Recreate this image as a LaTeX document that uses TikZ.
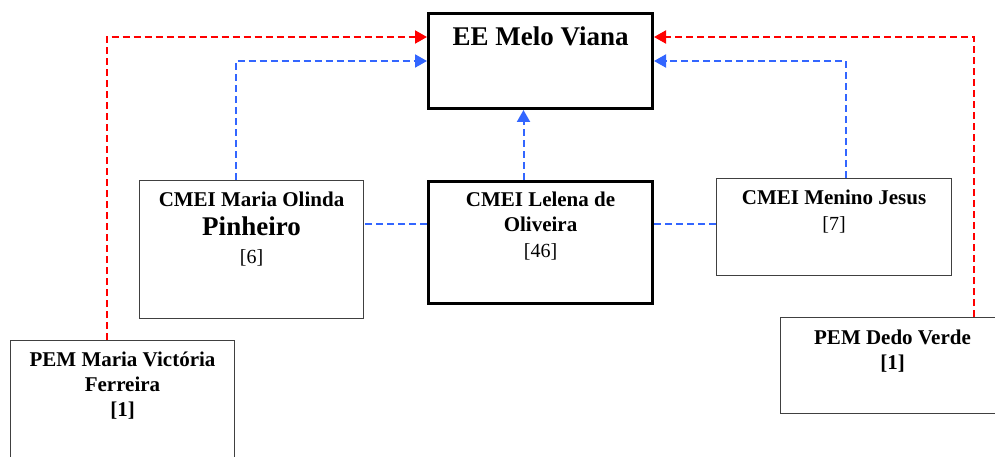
\documentclass[tikz,border=0pt]{standalone}
\usepackage{fontspec}
\setmainfont{Liberation Serif}
\usetikzlibrary{positioning,arrows.meta}

\definecolor{linkred}{RGB}{255,0,0}
\definecolor{linkblue}{RGB}{51,102,255}

\tikzstyle{school}=[rectangle, draw=black!75, line width=1pt, anchor=north west, minimum width=224pt, inner sep=0pt]
\tikzstyle{mainbox}=[school, draw=black, line width=3pt]
\tikzstyle{schoolname}=[align=center, inner sep=0pt, font=\bfseries\fontsize{21}{25}\selectfont]
\tikzstyle{red link}=[draw=linkred, line width=2pt, dash pattern=on 7pt off 4pt, -{Triangle[length=12pt,width=13pt]}]
\tikzstyle{blue link}=[red link, draw=linkblue]
\tikzstyle{side link}=[draw=linkblue, line width=2pt, dash pattern=on 7pt off 4pt]

\begin{document}
\begin{tikzpicture}[x=1pt,y=-1pt]
\useasboundingbox (0,0) rectangle (995,457);

% boxes
\node[mainbox, minimum height=95pt] (melo) at (427,12) {};
\node[school, minimum height=138pt] (olinda) at (139,180) {};
\node[mainbox, minimum height=122pt] (lelena) at (427,180) {};
\node[school, minimum width=235pt, minimum height=97pt] (menino) at (716,178) {};
\node[school, minimum height=130pt] (victoria) at (10,340) {};
\node[school, minimum height=96pt] (dedo) at (780,317) {};

% names
\node[schoolname, font=\bfseries\fontsize{27}{30}\selectfont, below=15pt of melo.north] (melot) {EE Melo Viana};
\node[schoolname, below=12pt of olinda.north] (olindat) {CMEI Maria Olinda\\[4pt]{\fontsize{27}{30}\selectfont Pinheiro}\\[3pt]{\mdseries\fontsize{20}{25}\selectfont [6]}};
\node[schoolname, below=12pt of lelena.north] (lelenat) {CMEI Lelena de\\Oliveira\\[1pt]{\mdseries\fontsize{20}{25}\selectfont [46]}};
\node[schoolname, below=12pt of menino.north] (meninot) {CMEI Menino Jesus\\[1pt]{\mdseries\fontsize{20}{25}\selectfont [7]}};
\node[schoolname, below=12pt of victoria.north] (victoriat) {PEM Maria Victória\\Ferreira\\{[1]}};
\node[schoolname, below=13pt of dedo.north] (dedot) {PEM Dedo Verde\\{[1]}};

% links
\draw[red link] ([xshift=-16pt]victoria.north) |- ([yshift=24pt]melo.west);
\draw[red link] ([xshift=81pt]dedo.north) |- ([yshift=24pt]melo.east);
\draw[blue link] ([xshift=-16pt]olinda.north) |- (melo.west);
\draw[blue link] ([xshift=12pt]menino.north) |- (melo.east);
\draw[blue link] ([xshift=-17pt]lelena.north) -- ([xshift=-17pt]melo.south);
\draw[side link] ([yshift=19pt]lelena.west) -- ([yshift=19pt]lelena.west -| olinda.east);
\draw[side link] ([yshift=19pt]lelena.east) -- ([yshift=19pt]lelena.east -| menino.west);

\end{tikzpicture}
\end{document}
